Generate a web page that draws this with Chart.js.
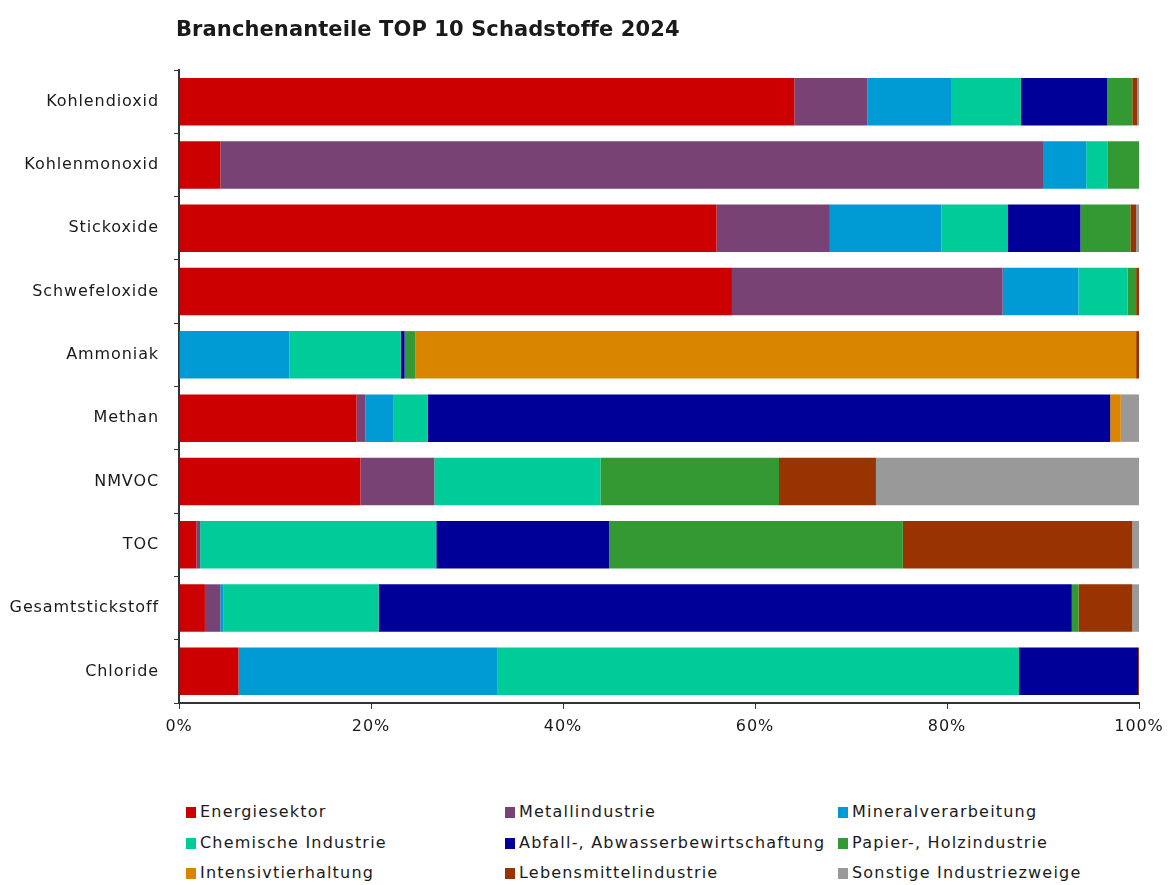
<!DOCTYPE html>
<html>
<head>
<meta charset="utf-8">
<script src="https://cdn.jsdelivr.net/npm/chart.js@4"></script>
<style>
  body { margin: 0; background: #fff; font-family: "DejaVu Sans", sans-serif; }
  #wrap { position: relative; width: 1172px; height: 885px; }
  #title { position: absolute; left: 176px; top: 17px; font-size: 21px; font-weight: bold; color: #1a1a1a; letter-spacing: 0.1px; }
  #chartBox { position: absolute; left: 0; top: 0; width: 1172px; height: 760px; }
  #legend { position: absolute; left: 0; top: 0; }
  .item { position: absolute; font-size: 16px; color: #1a1a1a; white-space: nowrap; line-height: 20px; letter-spacing: 1.2px; }
  .box { display: inline-block; width: 10px; height: 11px; margin-right: 4px; vertical-align: -1px; }
</style>
</head>
<body>
<div id="wrap">
  <div id="chartBox"><canvas id="myChart"></canvas></div>
  <div id="title">Branchenanteile TOP 10 Schadstoffe 2024</div>
  <div id="legend"></div>
</div>
<script>
const categories = ["Kohlendioxid", "Kohlenmonoxid", "Stickoxide", "Schwefeloxide", "Ammoniak",
  "Methan", "NMVOC", "TOC", "Gesamtstickstoff", "Chloride"];
const branchen = ["Energiesektor", "Metallindustrie", "Mineralverarbeitung", "Chemische Industrie",
  "Abfall-, Abwasserbewirtschaftung", "Papier-, Holzindustrie", "Intensivtierhaltung",
  "Lebensmittelindustrie", "Sonstige Industriezweige"];
const farben = ["#cc0000", "#784274", "#009bd5", "#00cc99", "#000099", "#339933", "#d98500", "#993300", "#999999"];

// Anteile in Prozent je Schadstoff
const energie = [64.1, 4.3, 56.0, 57.6, 0, 18.5, 18.9, 1.8, 2.7, 6.2];
const metall = [7.6, 85.7, 11.8, 28.2, 0, 0.9, 7.7, 0.4, 1.6, 0];
const mineral = [8.8, 4.5, 11.6, 7.9, 11.5, 2.9, 0, 0, 0.3, 27.0];
const chemie = [7.2, 2.2, 6.9, 5.1, 11.6, 3.6, 17.3, 24.6, 16.2, 54.3];
const abfall = [9.0, 0, 7.6, 0, 0.4, 71.1, 0, 18.0, 72.2, 12.4];
const papier = [2.6, 3.3, 5.2, 0.9, 1.1, 0, 18.6, 30.6, 0.7, 0];
const intensiv = [0, 0, 0, 0, 75.1, 1.1, 0, 0, 0, 0];
const lebensmittel = [0.5, 0, 0.6, 0.3, 0.3, 0, 10.1, 23.9, 5.6, 0.1];
const sonstige = [0.2, 0, 0.3, 0, 0, 1.9, 27.4, 0.7, 0.7, 0];

const xTicks = [0, 20, 40, 60, 80, 100];

const werte = [energie, metall, mineral, chemie, abfall, papier, intensiv, lebensmittel, sonstige];
const fontFam = '"DejaVu Sans", sans-serif';

const ctx = document.getElementById("myChart");

// etwas Sperrung fuer die Achsenbeschriftung
const spacing = {
  id: "spacing",
  beforeDraw: (chart) => { chart.ctx.letterSpacing = "0.9px"; },
};

new Chart(ctx, {
  type: "bar",
  data: {
    labels: categories,
    datasets: werte.map((w, i) => ({
      label: branchen[i],
      data: w,
      backgroundColor: farben[i],
      borderWidth: 0,
      categoryPercentage: 1,
      barPercentage: 0.75,
    })),
  },
  options: {
    indexAxis: "y",
    responsive: true,
    maintainAspectRatio: false,
    animation: false,
    layout: { padding: { top: 70, right: 33, left: 0, bottom: 0 } },
    scales: {
      x: {
        stacked: true,
        min: 0,
        max: 100,
        afterBuildTicks: (s) => { s.ticks = xTicks.map((v) => ({ value: v })); },
        afterFit: (s) => { s.height = 57; },
        border: { display: true, color: "#333", width: 2 },
        grid: { display: true, drawOnChartArea: false, drawTicks: true, tickLength: 6, color: "#333", lineWidth: 1 },
        ticks: {
          padding: 8,
          color: "#1a1a1a",
          font: { family: fontFam, size: 16 },
          callback: (v) => v + "%",
        },
      },
      y: {
        stacked: true,
        afterFit: (s) => { s.width = 179; },
        border: { display: true, color: "#333", width: 2 },
        grid: { display: true, offset: true, drawOnChartArea: false, drawTicks: true, tickLength: 5, color: "#333", lineWidth: 1 },
        ticks: {
          padding: 15,
          color: "#1a1a1a",
          font: { family: fontFam, size: 16 },
        },
      },
    },
    plugins: {
      legend: { display: false },
      tooltip: { enabled: false },
      title: { display: false },
    },
  },
  plugins: [spacing],
});

// Legende in drei Spalten
const legend = document.getElementById("legend");
const colX = [186, 505, 838];
const rowY = [802, 833, 863];
branchen.forEach((b, i) => {
  const d = document.createElement("div");
  d.className = "item";
  d.style.left = colX[i % 3] + "px";
  d.style.top = rowY[Math.floor(i / 3)] + "px";
  d.innerHTML = '<span class="box" style="background:' + farben[i] + '"></span>' + b;
  legend.appendChild(d);
});
</script>
</body>
</html>
